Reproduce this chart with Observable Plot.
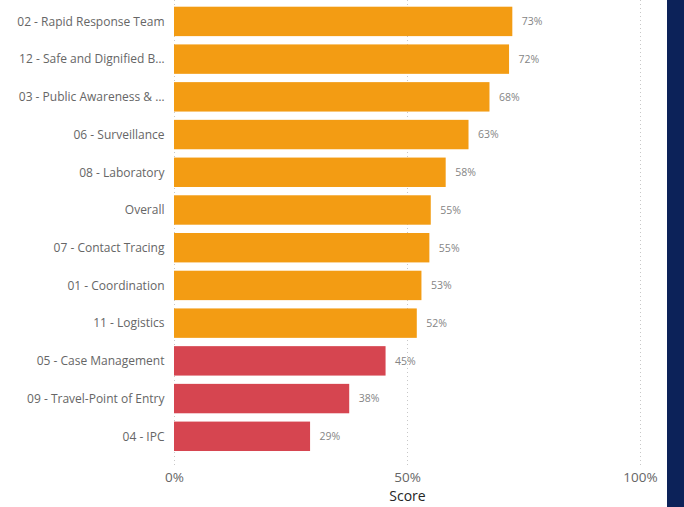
<!DOCTYPE html>
<html>
<head>
<meta charset="utf-8">
<script src="https://cdn.jsdelivr.net/npm/d3@7"></script>
<script src="https://cdn.jsdelivr.net/npm/@observablehq/plot@0.6"></script>
<style>
  html, body { margin: 0; padding: 0; background: #fff; }
  #wrap { position: relative; width: 684px; height: 507px; overflow: hidden; }
  #strip { position: absolute; left: 667px; top: 0; width: 17px; height: 507px; background: #0c2259; }
  svg { font-family: "Open Sans", sans-serif; }
</style>
</head>
<body>
<div id="wrap"><div id="chart"></div><div id="strip"></div></div>
<script>
const categories = [
  "02 - Rapid Response Team",
  "12 - Safe and Dignified B…",
  "03 - Public Awareness & …",
  "06 - Surveillance",
  "08 - Laboratory",
  "Overall",
  "07 - Contact Tracing",
  "01 - Coordination",
  "11 - Logistics",
  "05 - Case Management",
  "09 - Travel-Point of Entry",
  "04 - IPC"
];
const scores = [0.726, 0.719, 0.677, 0.632, 0.583, 0.551, 0.548, 0.531, 0.521, 0.454, 0.376, 0.292];
const groups = ["high","high","high","high","high","high","high","high","high","low","low","low"];
const xTicks = [0, 0.5, 1];
const xTickLabels = ["0%", "50%", "100%"];

const data = categories.map((c, i) => ({category: c, score: scores[i], group: groups[i]}));
const pct = d3.format(".0%");

const chart = Plot.plot({
  width: 684,
  height: 507,
  marginLeft: 174,
  marginRight: 44,
  marginTop: 3,
  marginBottom: 52,
  style: {fontFamily: "'Open Sans', sans-serif", background: "transparent"},
  x: {domain: [0, 1], ticks: xTicks, label: null},
  y: {domain: categories, padding: 0.22, round: false, range: [-1.6, 459.3], label: null},
  color: {domain: ["high", "low"], range: ["#F39C13", "#D64550"]},
  marks: [
    Plot.ruleX(xTicks, {stroke: "#c8c8c8", strokeDasharray: "1,3", insetTop: -3, insetBottom: -13}),
    Plot.barX(data, {x: "score", y: "category", fill: "group"}),
    Plot.text(data, {x: "score", y: "category", text: d => pct(d.score), dx: 9, textAnchor: "start", fill: "#858585", fontSize: 10.5}),
    Plot.axisY({tickSize: 0, tickPadding: 10, fontSize: 12, color: "#666"}),
    Plot.axisX(xTicks, {tickSize: 0, tickPadding: 17, fontSize: 13.5, color: "#666", tickFormat: d => xTickLabels[xTicks.indexOf(d)], label: null}),
    Plot.text(["Score"], {frameAnchor: "bottom", dy: 45, fontSize: 14, fill: "#252525"})
  ]
});
document.getElementById("chart").appendChild(chart);
</script>
</body>
</html>
